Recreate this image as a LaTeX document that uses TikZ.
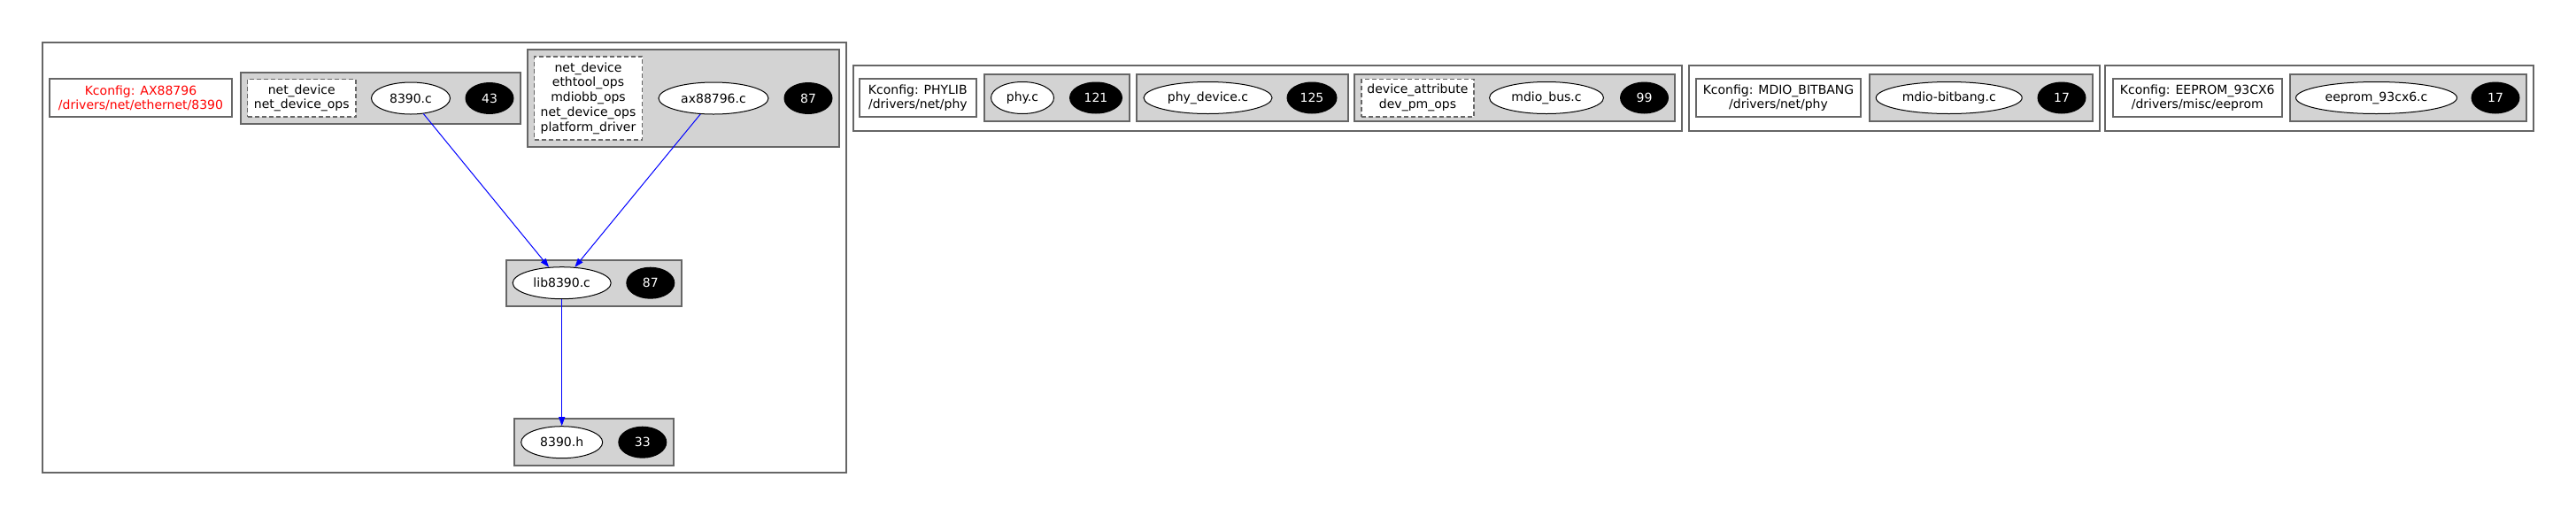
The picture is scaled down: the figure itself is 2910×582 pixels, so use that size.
\documentclass[tikz,border=0pt]{standalone}
\usepackage{fontspec}
\setmainfont{DejaVu Sans}
\usetikzlibrary{shapes.geometric,arrows.meta}
\definecolor{linegray}{HTML}{666666}
\definecolor{boxgray}{HTML}{D3D3D3}
\begin{document}
\begin{tikzpicture}[x=1pt,y=-1pt,
    txt/.style={font=\fontsize{14}{16.8}\selectfont},
    cluster/.style={draw=linegray,line width=2pt},
    filebox/.style={draw=linegray,fill=boxgray,line width=2pt},
    kconfig/.style={txt,draw=linegray,fill=white,line width=2pt,minimum height=42.7pt,inner sep=0pt,align=center},
    symbols/.style={txt,draw=linegray,fill=white,line width=1.5pt,dash pattern=on 5pt off 3pt,inner sep=0pt,align=center},
    file/.style={txt,ellipse,draw=black,fill=white,line width=1pt,minimum height=36pt,inner sep=0pt},
    count/.style={txt,ellipse,fill=black,text=white,minimum width=55pt,minimum height=36pt,inner sep=0pt},
    dep/.style={draw=blue,line width=1pt,-{Triangle[length=10pt,width=7pt]}}]
    \useasboundingbox (0,0) rectangle (2910,582);

    \draw[cluster] (47.5,47.5) rectangle (955.5,533.5);
    \node[kconfig,text=red,minimum width=206pt] (kax) at (159,110.75) {Kconfig: AX88796\\/drivers/net/ethernet/8390};
    \draw[filebox] (272,82) rectangle (588,140);
    \node[symbols,minimum width=122.5pt,minimum height=42.5pt] (s8390) at (340.75,110.75) {net\_device\\net\_device\_ops};
    \node[file,minimum width=89pt] (f8390c) at (464,111) {8390.c};
    \node[count] (n8390c) at (553,111) {43};
    \draw[filebox] (595.5,56) rectangle (948,166);
    \node[symbols,minimum width=122pt,minimum height=94pt] (sax) at (664.5,111) {net\_device\\ethtool\_ops\\mdiobb\_ops\\net\_device\_ops\\platform\_driver};
    \node[file,minimum width=124pt] (fax) at (806,111) {ax88796.c};
    \node[count] (nax) at (913,111) {87};
    \draw[filebox] (572,294) rectangle (770,346);
    \node[file,minimum width=111pt] (flib) at (634.7,319.7) {lib8390.c};
    \node[count] (nlib) at (734.8,319.7) {87};
    \draw[filebox] (581,473) rectangle (761,526);
    \node[file,minimum width=92pt] (fh) at (634.7,499.7) {8390.h};
    \node[count] (nh) at (725.8,499.7) {33};
    \draw[dep] (f8390c) -- (flib);
    \draw[dep] (fax) -- (flib);
    \draw[dep] (flib) -- (fh);

    \draw[cluster] (963.75,74) rectangle (1900,147.5);
    \node[kconfig,minimum width=131.7pt] (kphy) at (1036.85,110.65) {Kconfig: PHYLIB\\/drivers/net/phy};
    \draw[filebox] (1111.7,84.3) rectangle (1276,136.7);
    \node[file,minimum width=71pt] (fphy) at (1155,110.5) {phy.c};
    \node[count,minimum width=60pt] (nphy) at (1238,110.5) {121};
    \draw[filebox] (1284,84.3) rectangle (1522.5,136.7);
    \node[file,minimum width=145pt] (fphydev) at (1364.5,110.5) {phy\_device.c};
    \node[count,minimum width=57pt] (nphydev) at (1482,110.5) {125};
    \draw[filebox] (1530,84.3) rectangle (1892,136.7);
    \node[symbols,minimum width=127pt,minimum height=42.7pt] (smdio) at (1601.5,110.65) {device\_attribute\\dev\_pm\_ops};
    \node[file,minimum width=129pt] (fmdio) at (1747,110.5) {mdio\_bus.c};
    \node[count] (nmdio) at (1857.5,110.5) {99};

    \draw[cluster] (1907.5,74) rectangle (2372,147.5);
    \node[kconfig,minimum width=186pt] (kbitbang) at (2009,110.65) {Kconfig: MDIO\_BITBANG\\/drivers/net/phy};
    \draw[filebox] (2112,84.3) rectangle (2364,136.7);
    \node[file,minimum width=165pt] (fbitbang) at (2201.7,110.5) {mdio-bitbang.c};
    \node[count] (nbitbang) at (2329,110.5) {17};

    \draw[cluster] (2378,74) rectangle (2862,147.5);
    \node[kconfig,minimum width=190.5pt] (keeprom) at (2482.25,110.65) {Kconfig: EEPROM\_93CX6\\/drivers/misc/eeprom};
    \draw[filebox] (2587,84.3) rectangle (2854,136.7);
    \node[file,minimum width=182pt] (feeprom) at (2684.5,110.5) {eeprom\_93cx6.c};
    \node[count] (neeprom) at (2819,110.5) {17};
\end{tikzpicture}
\end{document}
